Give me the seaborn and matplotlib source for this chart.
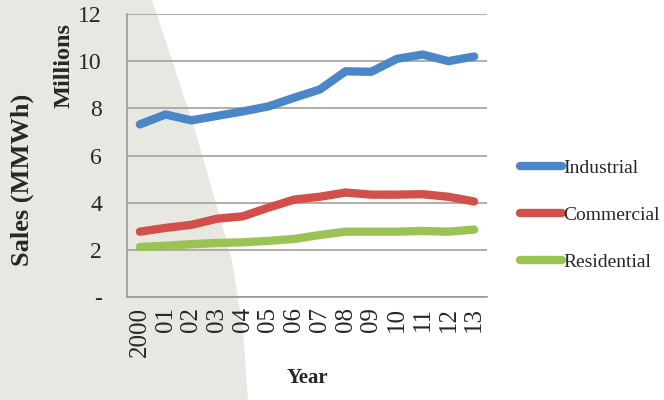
import seaborn as sns
import matplotlib.pyplot as plt
import numpy as np
import pandas as pd
from matplotlib.patches import Polygon

years = ["2000", "01", "02", "03", "04", "05", "06", "07", "08", "09", "10", "11", "12", "13"]
industrial = [7.32, 7.74, 7.49, 7.68, 7.87, 8.08, 8.45, 8.8, 9.57, 9.55, 10.1, 10.28, 10.0, 10.2]
commercial = [2.77, 2.93, 3.06, 3.32, 3.42, 3.79, 4.13, 4.25, 4.43, 4.34, 4.34, 4.36, 4.25, 4.05]
residential = [2.12, 2.17, 2.24, 2.29, 2.32, 2.38, 2.46, 2.63, 2.77, 2.77, 2.77, 2.8, 2.77, 2.86]
series = ["Industrial", "Commercial", "Residential"]
colors = ["#4a86c8", "#d24f4b", "#9bc353"]
y_ticks = [0, 2, 4, 6, 8, 10, 12]
y_labels = ["-", "2", "4", "6", "8", "10", "12"]

df = pd.DataFrame({
    "idx": list(range(len(years))) * 3,
    "value": industrial + commercial + residential,
    "series": [s for s in series for _ in years],
})

sns.set_style("white")
plt.rcParams["font.family"] = ["Liberation Serif", "DejaVu Serif"]

fig = plt.figure(figsize=(6.64, 4.0), dpi=100)
fig.patch.set_facecolor("white")

# grey page shadow on the left
def fpts(pts):
    return [(x / 664, 1 - y / 400) for x, y in pts]

edge = [(152, 0), (172, 60), (195, 130), (215, 200), (232, 260), (243, 330), (248, 400)]
fig.add_artist(Polygon(fpts([(0, 0)] + edge + [(0, 400)]), closed=True,
                       transform=fig.transFigure, facecolor="#e8e8e3", edgecolor="none", zorder=0))

ax = fig.add_axes([127 / 664, 1 - 297 / 400, 360 / 664, 283 / 400])
ax.patch.set_alpha(0)

sns.lineplot(data=df, x="idx", y="value", hue="series", hue_order=series,
             palette=colors, linewidth=6, ax=ax, solid_capstyle="round")

ax.set_xlim(-0.5, len(years) - 0.5)
ax.set_ylim(0, 12)
ax.set_yticks(y_ticks)
ax.set_yticklabels(y_labels, fontsize=17)
ax.set_xticks(range(len(years)))
ax.set_xticklabels(years, rotation=90, fontsize=18)
ax.set_xticks(np.arange(-0.5, len(years), 1), minor=True)
ax.tick_params(axis="x", which="major", length=0, pad=7)
ax.tick_params(axis="x", which="minor", length=5, width=1.2, color="#999999", direction="out")
ax.tick_params(axis="y", length=0, pad=18)
ax.grid(axis="y", color="#a8a098", linewidth=1.2)
ax.set_axisbelow(True)
for s in ["top", "right"]:
    ax.spines[s].set_visible(False)
for s in ["left", "bottom"]:
    ax.spines[s].set_color("#999999")
    ax.spines[s].set_linewidth(1.2)

ax.set_xlabel("Year", fontsize=15, fontweight="bold", labelpad=8)
ax.set_ylabel("")
fig.text(64 / 664, 1 - 65 / 400, "Millions", rotation=90, fontsize=17.5,
         fontweight="bold", ha="center", va="center")
fig.text(22 / 664, 1 - 180 / 400, "Sales (MMWh)", rotation=90, fontsize=19,
         fontweight="bold", ha="center", va="center")

leg = ax.legend(loc="center left", bbox_to_anchor=((520 - 127) / 360, (297 - 215) / 283),
                frameon=False, fontsize=14, handlelength=2.15, handletextpad=0.1,
                labelspacing=1.5, borderpad=0, borderaxespad=0)
for line in leg.get_lines():
    line.set_linewidth(6)

fig.savefig("out.png", dpi=100)
